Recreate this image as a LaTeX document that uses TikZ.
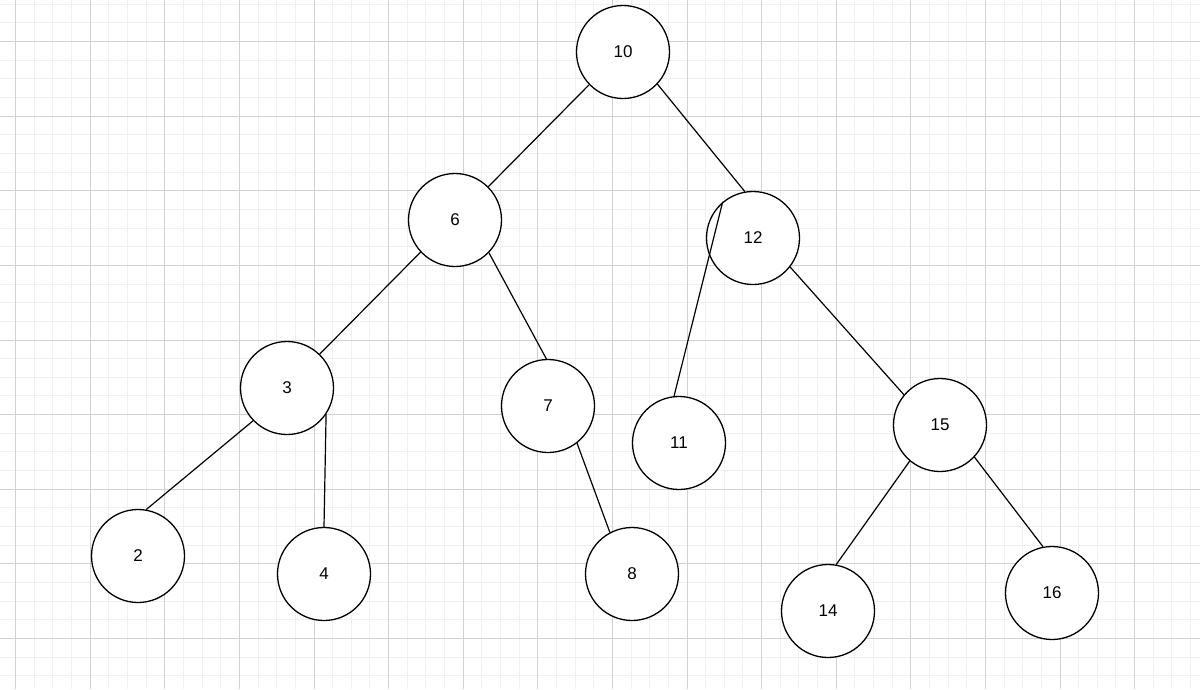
\documentclass[tikz,border=0pt]{standalone}
\usepackage{fontspec}
\setmainfont{Liberation Sans}
\begin{document}
\begin{tikzpicture}[x=1pt,y=-1pt,
  nd/.style={circle,draw=black,line width=1.3pt,minimum size=93pt,inner sep=0pt,fill=white,font=\fontsize{17}{20}\selectfont},
  ed/.style={line width=1.2pt}]
\useasboundingbox (0,0) rectangle (1200,689);
\fill[white] (0,0) rectangle (1200,689);
\foreach \i in {-4,...,64} {
  \draw[color=black!6,line width=0.8pt] ({15.5+18.65*\i},0) -- ({15.5+18.65*\i},689);
  \draw[color=black!6,line width=0.8pt] (0,{41.5+18.65*\i}) -- (1200,{41.5+18.65*\i});
}
\foreach \i in {-1,...,16} {
  \draw[color=black!18,line width=0.8pt] ({15.5+74.6*\i},0) -- ({15.5+74.6*\i},689);
  \draw[color=black!18,line width=0.8pt] (0,{41.5+74.6*\i}) -- (1200,{41.5+74.6*\i});
}
\node[nd] (n10) at (623,52) {10};
\node[nd] (n6) at (455,220) {6};
\node[nd] (n12) at (753,238) {12};
\node[nd] (n3) at (287,388) {3};
\node[nd] (n7) at (548,406) {7};
\node[nd] (n11) at (679,443) {11};
\node[nd] (n15) at (940,425) {15};
\node[nd] (n2) at (138,556) {2};
\node[nd] (n4) at (324,574) {4};
\node[nd] (n8) at (632,574) {8};
\node[nd] (n14) at (828,611) {14};
\node[nd] (n16) at (1052,593) {16};
\draw[ed] (n10.-136) -- (n6.45);
\draw[ed] (n10.-43) -- (n12.100);
\draw[ed] (n6.-137) -- (n3.46);
\draw[ed] (n6.-44) -- (n7.92);
\draw[ed] (n12.130) -- (n11.96);
\draw[ed] (n12.-38) -- (n15.140);
\draw[ed] (n3.-136) -- (n2.80);
\draw[ed] (n3.-34) -- (n4.90);
\draw[ed] (n7.-52) -- (n8.118);
\draw[ed] (n15.-130) -- (n14.80);
\draw[ed] (n15.-43) -- (n16.101);
\end{tikzpicture}
\end{document}
